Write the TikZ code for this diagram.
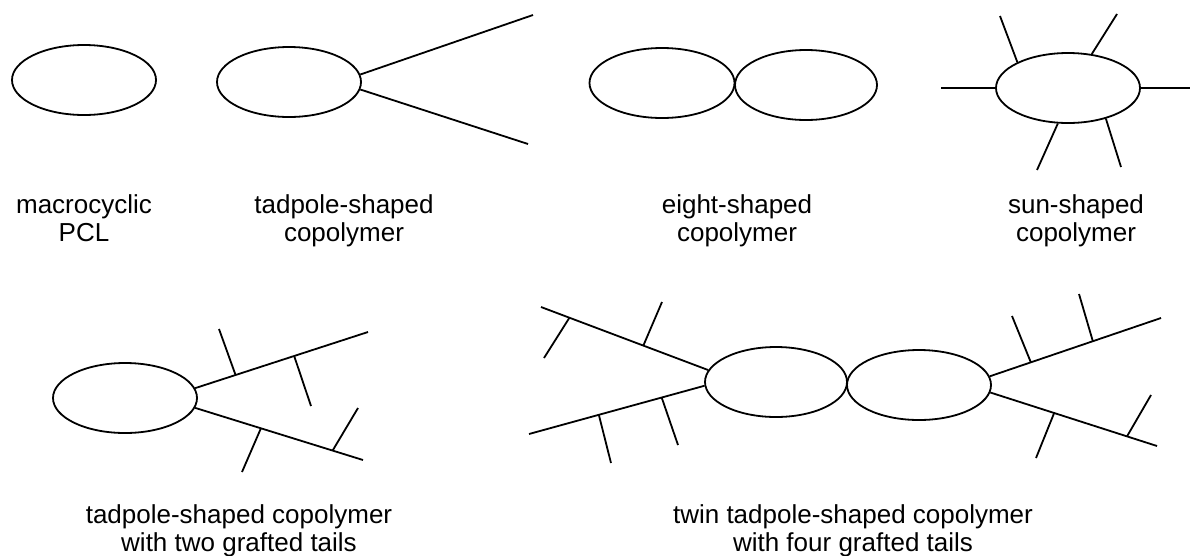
\documentclass[tikz,border=0pt]{standalone}
\usepackage{fontspec}
\setmainfont{Liberation Sans}
\usetikzlibrary{shapes.geometric}
\begin{document}
\begin{tikzpicture}[x=1pt,y=-1pt,
  ring/.style={draw,ellipse,line width=1.8pt,minimum width=144pt,minimum height=70pt,inner sep=0pt},
  chain/.style={line width=1.8pt},
  lbl/.style={align=center,anchor=north,inner sep=0pt,font=\fontsize{26}{28}\selectfont}]
\useasboundingbox (0,0) rectangle (1190,555);
% macrocyclic PCL
\node[ring] (mac) at (84,80) {};
% tadpole-shaped
\node[ring] (tad) at (289,82) {};
\coordinate (tadU) at (533,15);
\coordinate (tadD) at (528,144);
\draw[chain] (tad.6) -- (tadU);
\draw[chain] (tad.-6) -- (tadD);
% eight-shaped
\node[ring,minimum width=145pt] (eL) at (662,83) {};
\node[ring,minimum width=142pt] (eR) at (806,85) {};
% sun-shaped
\node[ring] (sun) at (1068,88) {};
\coordinate (s1) at (941,88);
\coordinate (s2) at (1190,88);
\coordinate (s3) at (1000,16);
\coordinate (s4) at (1117,14);
\coordinate (s5) at (1037,170);
\coordinate (s6) at (1121,167);
\draw[chain] (sun.180) -- (s1);
\draw[chain] (sun.0) -- (s2);
\draw[chain] (sun.153) -- (s3);
\draw[chain] (sun.55) -- (s4);
\draw[chain] (sun.-106) -- (s5);
\draw[chain] (sun.-39) -- (s6);
% tadpole with two grafted tails
\node[ring] (btad) at (125,398) {};
\coordinate (btU) at (368,332);
\coordinate (btD) at (363,460);
\draw[chain] (btad.8) -- (btU) coordinate[pos=0.234] (bg1) coordinate[pos=0.573] (bg2);
\draw[chain] (btad.-8) -- (btD) coordinate[pos=0.392] (bg3) coordinate[pos=0.819] (bg4);
\coordinate (bf1) at (219,329);
\coordinate (bf2) at (311,406);
\coordinate (bf3) at (242,472);
\coordinate (bf4) at (358,408);
\draw[chain] (bg1) -- (bf1);
\draw[chain] (bg2) -- (bf2);
\draw[chain] (bg3) -- (bf3);
\draw[chain] (bg4) -- (bf4);
% twin tadpole with four grafted tails
\node[ring,minimum width=142pt] (tL) at (776,382) {};
\node[ring] (tR) at (919,385) {};
\coordinate (tLU) at (541,307);
\coordinate (tLD) at (529,434);
\coordinate (tRU) at (1161,318);
\coordinate (tRD) at (1157,446);
\draw[chain] (tL.170) -- (tLU) coordinate[pos=0.388] (tg1) coordinate[pos=0.830] (tg2);
\draw[chain] (tL.183) -- (tLD) coordinate[pos=0.244] (tg3) coordinate[pos=0.602] (tg4);
\draw[chain] (tR.7) -- (tRU) coordinate[pos=0.24] (tg5) coordinate[pos=0.602] (tg6);
\draw[chain] (tR.-6) -- (tRD) coordinate[pos=0.383] (tg7) coordinate[pos=0.82] (tg8);
\coordinate (tf1) at (662,302);
\coordinate (tf2) at (544,358);
\coordinate (tf3) at (678,445);
\coordinate (tf4) at (611,463);
\coordinate (tf5) at (1012,316);
\coordinate (tf6) at (1079,294);
\coordinate (tf7) at (1036,458);
\coordinate (tf8) at (1151,395);
\draw[chain] (tg1) -- (tf1);
\draw[chain] (tg2) -- (tf2);
\draw[chain] (tg3) -- (tf3);
\draw[chain] (tg4) -- (tf4);
\draw[chain] (tg5) -- (tf5);
\draw[chain] (tg6) -- (tf6);
\draw[chain] (tg7) -- (tf7);
\draw[chain] (tg8) -- (tf8);
% labels
\node[lbl] (l1) at (84,194) {macrocyclic\\PCL};
\node[lbl] (l2) at (344,194) {tadpole-shaped\\copolymer};
\node[lbl] (l3) at (737,194) {eight-shaped\\copolymer};
\node[lbl] (l4) at (1076,194) {sun-shaped\\copolymer};
\node[lbl] (l5) at (239,504) {tadpole-shaped copolymer\\with two grafted tails};
\node[lbl] (l6) at (853,504) {twin tadpole-shaped copolymer\\with four grafted tails};
\end{tikzpicture}
\end{document}
